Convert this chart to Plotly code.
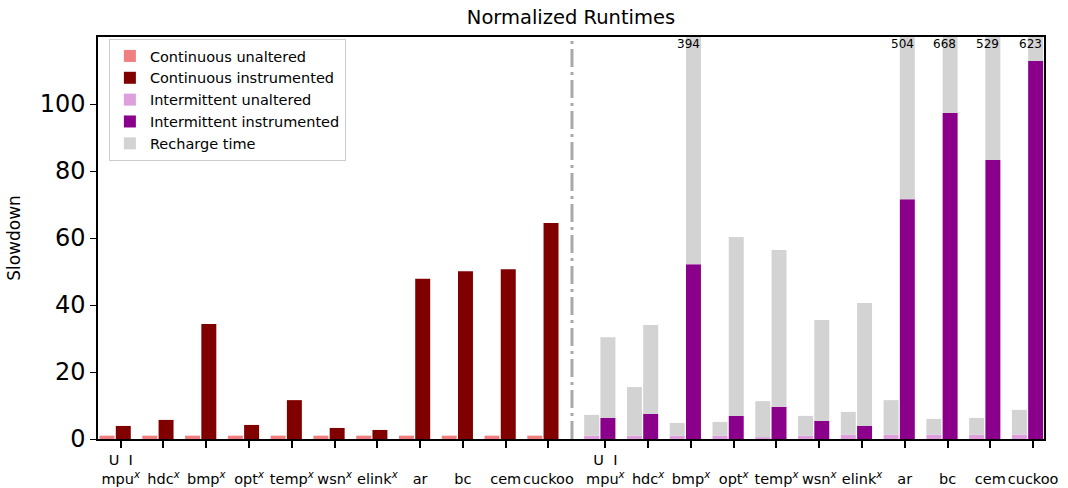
import plotly.graph_objects as go

# ---------------- data ----------------
benchmarks = ["mpu<sup><i>x</i></sup>", "hdc<sup><i>x</i></sup>", "bmp<sup><i>x</i></sup>",
              "opt<sup><i>x</i></sup>", "temp<sup><i>x</i></sup>", "wsn<sup><i>x</i></sup>",
              "elink<sup><i>x</i></sup>", "ar", "bc", "cem", "cuckoo"]

cont_unaltered = [1.0, 1.0, 1.0, 1.0, 1.0, 1.0, 1.0, 1.0, 1.0, 1.0, 1.0]
cont_instrumented = [3.9, 5.7, 34.3, 4.2, 11.6, 3.3, 2.7, 47.8, 50.1, 50.7, 64.5]

int_unaltered = [1.0, 1.0, 1.0, 1.0, 0.5, 1.0, 1.3, 1.3, 1.3, 1.3, 1.3]
int_unaltered_total = [7.2, 15.5, 4.8, 5.1, 11.3, 6.9, 8.1, 11.6, 6.0, 6.3, 8.7]
int_instrumented = [6.3, 7.5, 52.2, 6.9, 9.6, 5.4, 3.9, 71.6, 97.3, 83.3, 112.8]
int_instrumented_total = [30.4, 34.0, 394, 60.3, 56.4, 35.5, 40.6, 504, 668, 529, 623]

y_ticks = [0, 20, 40, 60, 80, 100]
Y_MAX = 120

# ---------------- positions ----------------
n = len(benchmarks)
GROUP_GAP = 11.33
left_pos = [i for i in range(n)]
right_pos = [GROUP_GAP + i for i in range(n)]
U_OFF, I_OFF, W = -0.32, 0.06, 0.35
sep_x = 10.55

tick_vals = left_pos + right_pos
tick_text = []
for grp in range(2):
    for i, b in enumerate(benchmarks):
        first = "U\u00a0\u00a0I" if i == 0 else "\u00a0"
        tick_text.append(first + "<br>" + b)

fig = go.Figure()
fig.add_trace(go.Bar(name="Continuous unaltered", x=[p + U_OFF for p in left_pos],
                     y=cont_unaltered, width=W, marker_color="#F08080", marker_line_width=0))
fig.add_trace(go.Bar(name="Continuous instrumented", x=[p + I_OFF for p in left_pos],
                     y=cont_instrumented, width=W, marker_color="#800000", marker_line_width=0))
fig.add_trace(go.Bar(name="Intermittent unaltered", x=[p + U_OFF for p in right_pos],
                     y=int_unaltered, width=W, marker_color="#DDA0DD", marker_line_width=0))
fig.add_trace(go.Bar(name="Intermittent instrumented", x=[p + I_OFF for p in right_pos],
                     y=int_instrumented, width=W, marker_color="#8B008B", marker_line_width=0))

rech_x = [p + U_OFF for p in right_pos] + [p + I_OFF for p in right_pos]
rech_base = int_unaltered + int_instrumented
rech_y = [t - b for t, b in zip(int_unaltered_total, int_unaltered)] + \
         [t - b for t, b in zip(int_instrumented_total, int_instrumented)]
fig.add_trace(go.Bar(name="Recharge time", x=rech_x, y=rech_y, base=rech_base, width=W,
                     marker_color="#D3D3D3", marker_line_width=0))

for p, tot in zip(right_pos, int_instrumented_total):
    if tot > Y_MAX:
        fig.add_annotation(x=p - 0.06, y=Y_MAX, text=str(tot), showarrow=False,
                           yanchor="top", yshift=2, font=dict(size=12, color="black"))

fig.add_shape(type="line", xref="x", yref="paper", x0=sep_x, x1=sep_x, y0=0, y1=1,
              line=dict(color="#A9A9A9", width=3, dash="18px,5px,3px,5px"))

FIG_W, FIG_H = 1068, 488
fig.update_layout(
    width=FIG_W, height=FIG_H,
    margin=dict(l=98, r=24, t=37, b=49, pad=0, autoexpand=False),
    paper_bgcolor="white", plot_bgcolor="white",
    font=dict(family="DejaVu Sans", color="black"),
    barmode="overlay",
    title=dict(text="Normalized Runtimes", x=0.5, xref="paper", xanchor="center",
               y=1 - 17 / FIG_H, yref="container", yanchor="middle", automargin=False,
               font=dict(size=19.5, color="black")),
    legend=dict(x=0.0115, y=0.995, xanchor="left", yanchor="top",
                bgcolor="rgba(255,255,255,0.8)", bordercolor="#cccccc", borderwidth=1,
                font=dict(size=14.5, color="black"), traceorder="normal"),
    xaxis=dict(range=[-0.531, 21.585], tickmode="array", tickvals=tick_vals,
               ticktext=tick_text, tickfont=dict(size=14.5, color="black"),
               ticks="outside", ticklen=7, tickwidth=1.5, tickcolor="black",
               showline=True, linecolor="black", linewidth=1.5, mirror=True,
               showgrid=False, zeroline=False, tickangle=0, automargin=False),
    yaxis=dict(range=[0, Y_MAX], tickmode="array", tickvals=y_ticks,
               tickfont=dict(size=24, color="black"),
               ticks="outside", ticklen=6, tickwidth=1, tickcolor="black",
               showline=True, linecolor="black", linewidth=1.5, mirror=True,
               showgrid=False, zeroline=False, automargin=False,
               title=dict(text="Slowdown", font=dict(size=17, color="black"), standoff=15)),
)

# remove the browser's default 8px page margin so the figure sits at the window origin
fig.write_html("out.html", config={"displayModeBar": False},
               post_script="document.body.style.margin='0px';")
